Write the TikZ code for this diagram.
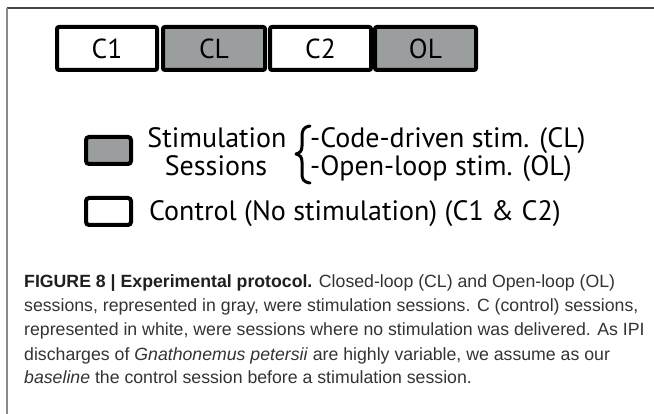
\documentclass[tikz,border=0pt]{standalone}
\usepackage{fontspec}
\newfontfamily\labfont{PT Sans}
\newfontfamily\capfont{Liberation Sans}
\definecolor{sessgray}{HTML}{9B9E9E}
\definecolor{captxt}{HTML}{333333}
\definecolor{framedark}{HTML}{444444}
\definecolor{frameleft}{HTML}{8A8A8A}
\begin{document}
\begin{tikzpicture}[x=1pt,y=-1pt,
  sessbox/.style={draw=black,line width=4pt,rounded corners=2pt},
  labtext/.style={font=\labfont\fontsize{27.5}{27.5}\selectfont,text=black,inner sep=0pt},
  legtext/.style={font=\labfont\fontsize{28}{28}\selectfont,text=black,inner sep=0pt},
  captext/.style={font=\capfont\fontsize{17.7}{17.7}\selectfont,text=captxt,inner sep=0pt,anchor=base west}]
\useasboundingbox (0,0) rectangle (654,414);
% frame
\draw[framedark,line width=1.5pt] (6.5,8) -- (654,8);
\draw[frameleft,line width=2pt] (7,8) -- (7,414);
% session boxes
\filldraw[sessbox,fill=white]    (57,27) rectangle (157,70);
\filldraw[sessbox,fill=sessgray] (163,27) rectangle (265,70);
\filldraw[sessbox,fill=white]    (270,27) rectangle (371,70);
\filldraw[sessbox,fill=sessgray] (375,27) rectangle (476,70);
\node[labtext] (c1) at (107,48.5) {C1};
\node[labtext] (cl) at (214,48.5) {CL};
\node[labtext] (c2) at (320.5,48.5) {C2};
\node[labtext] (ol) at (425.5,48.5) {OL};
% legend: stimulation
\filldraw[sessbox,rounded corners=3pt,fill=sessgray] (86,137) rectangle (131,164);
\node[legtext,anchor=base] (stim) at (217,148) {Stimulation};
\node[legtext,anchor=base] (sess) at (216,176) {Sessions};
\draw[line width=3pt,line cap=round,line join=round]
  (310,126) .. controls (303,127) and (302,131) .. (302,137)
  -- (302,146) .. controls (302,151) and (300,153) .. (296,154)
  .. controls (300,155) and (302,157) .. (302,162)
  -- (302,173) .. controls (302,179) and (303,182) .. (310,183);
\node[legtext,anchor=base west] (cd) at (310,148) {-Code-driven stim. (CL)};
\node[legtext,anchor=base west] (op) at (310,176) {-Open-loop stim. (OL)};
% legend: control
\filldraw[sessbox,rounded corners=3pt,fill=white] (86,198) rectangle (131,225);
\node[legtext,anchor=base west] (ctrl) at (149,221) {Control (No stimulation) (C1 \& C2)};
% caption
\node[captext] (l1) at (24,288) {{\color{black!88}\bfseries FIGURE 8 | Experimental protocol.} Closed-loop (CL) and Open-loop (OL)};
\node[captext] (l2) at (24,312) {sessions, represented in gray, were stimulation sessions. C (control) sessions,};
\node[captext] (l3) at (24,336) {represented in white, were sessions where no stimulation was delivered. As IPI};
\node[captext] (l4) at (24,360) {discharges of \textit{Gnathonemus petersii} are highly variable, we assume as our};
\node[captext] (l5) at (24,384) {\textit{baseline} the control session before a stimulation session.};
\end{tikzpicture}
\end{document}
